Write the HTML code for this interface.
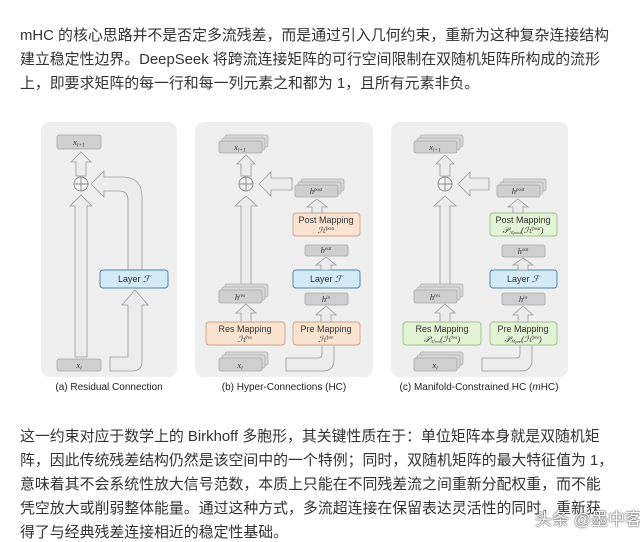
<!DOCTYPE html>
<html><head><meta charset="utf-8"><style>
body{margin:0;width:640px;height:537px;background:#fff;position:relative;overflow:hidden;font-family:"Liberation Sans","Noto Sans CJK SC",sans-serif;color:#333}
.t{position:absolute;left:20px;font-size:14.9px;white-space:nowrap;letter-spacing:0}
svg{position:absolute;left:0;top:0}
.wm{position:absolute;left:535px;top:505px;font-size:17px;color:#fff;text-shadow:0 0 2px #555,0 0 1px #333;white-space:nowrap}
</style></head><body>
<div class="t" style="top:24px">mHC 的核心思路并不是否定多流残差，而是通过引入几何约束，重新为这种复杂连接结构</div>
<div class="t" style="top:48px">建立稳定性边界。DeepSeek 将跨流连接矩阵的可行空间限制在双随机矩阵所构成的流形</div>
<div class="t" style="top:72px">上，即要求矩阵的每一行和每一列元素之和都为 1，且所有元素非负。</div>
<div class="t" style="top:425px">这一约束对应于数学上的 Birkhoff 多胞形，其关键性质在于：单位矩阵本身就是双随机矩</div>
<div class="t" style="top:449px">阵，因此传统残差结构仍然是该空间中的一个特例；同时，双随机矩阵的最大特征值为 1，</div>
<div class="t" style="top:473px">意味着其不会系统性放大信号范数，本质上只能在不同残差流之间重新分配权重，而不能</div>
<div class="t" style="top:497px">凭空放大或削弱整体能量。通过这种方式，多流超连接在保留表达灵活性的同时，重新获</div>
<div class="t" style="top:521px">得了与经典残差连接相近的稳定性基础。</div>
<div class="wm">头条 @墨中客</div>
<svg width="640" height="537" viewBox="0 0 640 537">
<defs>
<style>
.pn{fill:#efefef}
.ar{fill:#ececec;stroke:#9a9a9a;stroke-width:0.8}
.bx{fill:#cfcfcf;stroke:#a8a8a8;stroke-width:0.8}
.bk{fill:#d8d8d8;stroke:#b0b0b0;stroke-width:0.8}
.or{fill:#fbe3d2;stroke:#d3a080;stroke-width:0.9}
.gr{fill:#e3f3d6;stroke:#9cc484;stroke-width:0.9}
.bl{fill:#d3ebf6;stroke:#4f87a3;stroke-width:1}
.lb{font-family:"Liberation Sans",sans-serif;font-size:9px;fill:#333;text-anchor:middle}
.mt{font-family:"Liberation Serif",serif;font-size:8.5px;fill:#333;text-anchor:middle;font-style:italic}
.cap{font-family:"Liberation Sans",sans-serif;font-size:10px;fill:#222;text-anchor:middle}
</style>
</defs>
<rect class="pn" x="41" y="122" width="136" height="255" rx="9"/>
<rect class="pn" x="195" y="122" width="178" height="255" rx="9"/>
<rect class="pn" x="391" y="122" width="177" height="255" rx="9"/>
<text class="cap" x="109" y="390">(a) Residual Connection</text>
<text class="cap" x="284" y="390">(b) Hyper-Connections (HC)</text>
<text class="cap" x="479" y="390">(c) Manifold-Constrained HC (<tspan font-style="italic">m</tspan>HC)</text>

<rect class="bx" x="57" y="135" width="44" height="14" rx="2"/>
<text class="mt" x="79" y="145">x<tspan font-size="5.5" dy="1.5">l+1</tspan></text>
<path class="ar" d="M81,152 L91,162 H86 V176 H76 V162 H71 Z"/>
<circle cx="81" cy="184" r="7" fill="#f4f4f4" stroke="#888" stroke-width="0.9"/>
<path d="M74,184 H88 M81,177 V191" stroke="#888" stroke-width="0.9"/>
<path class="ar" d="M81,195 L92,206 H87 V357 H75 V206 H70 Z"/>
<rect class="bx" x="57" y="359" width="44" height="12" rx="2"/>
<text class="mt" x="79" y="368">x<tspan font-size="5.5" dy="1.5">l</tspan></text>
<path class="ar" d="M128,270 V200 Q128,191 119,191 H104 V197 L91,184 L104,171 V177 H122 Q142,177 142,197 V270 Z"/>
<path class="ar" d="M110,371 H132 Q142,371 142,361 V305 H148 L135,290 L122,305 H128 V357 H110 Z"/>
<rect class="bl" x="100" y="270" width="68" height="18" rx="3"/>
<text class="lb" x="134" y="282">Layer <tspan font-family="Liberation Serif" font-style="italic">ℱ</tspan></text>

<g>
<rect class="bk" x="225" y="135" width="43" height="12" rx="2"/><rect class="bk" x="222" y="138" width="43" height="12" rx="2"/>
<rect class="bx" x="219" y="141" width="43" height="12" rx="2"/>
<text class="mt" x="240" y="150">x<tspan font-size="5.5" dy="1.5">l+1</tspan></text>
<path class="ar" d="M246,155 L255,164 H251 V176 H241 V164 H237 Z"/>
<circle cx="246" cy="184" r="7" fill="#f4f4f4" stroke="#888" stroke-width="0.9"/>
<path d="M239,184 H253 M246,177 V191" stroke="#888" stroke-width="0.9"/>
<path class="ar" d="M259,184 L271,172 V178 H292 V190 H271 V196 Z"/>
<path class="ar" d="M246,196 L257,206 H251 V288 H241 V206 H235 Z"/>
<rect class="bk" x="225" y="284" width="43" height="13" rx="2"/><rect class="bk" x="222" y="287" width="43" height="13" rx="2"/>
<rect class="bx" x="219" y="290" width="43" height="13" rx="2"/>
<text class="mt" x="240" y="300">h<tspan font-size="5" dy="-3">res</tspan></text>
<path class="ar" d="M246,304 L256,313 H251 V322 H241 V313 H236 Z"/>
<rect class="or" x="206" y="322" width="79" height="23" rx="3"/>
<text class="lb" x="245" y="332">Res Mapping</text>
<text class="mt" x="245" y="342">ℋ<tspan font-size="5" dy="-3">res</tspan></text>
<rect class="bk" x="225" y="352" width="43" height="13" rx="2"/><rect class="bk" x="222" y="355" width="43" height="13" rx="2"/>
<rect class="bx" x="219" y="358" width="43" height="13" rx="2"/>
<text class="mt" x="240" y="368">x<tspan font-size="5.5" dy="1.5">l</tspan></text>
<path class="ar" d="M286,358 H318 Q322,358 322,354 V345 H334 V360 Q334,371 323,371 H286 Z"/>
<rect class="or" x="293" y="322" width="67" height="23" rx="3"/>
<text class="lb" x="326" y="332">Pre Mapping</text>
<text class="mt" x="326" y="342">ℋ<tspan font-size="5" dy="-3">pre</tspan></text>
<path class="ar" d="M326,306 L336,315 H331 V322 H321 V315 H316 Z"/>
<rect class="bx" x="305" y="293" width="43" height="12" rx="2"/>
<text class="mt" x="326" y="302">h<tspan font-size="5" dy="-3">in</tspan></text>
<rect class="bl" x="293" y="270" width="67" height="18" rx="3"/>
<text class="lb" x="326" y="282">Layer <tspan font-family="Liberation Serif" font-style="italic">ℱ</tspan></text>
<path class="ar" d="M326,257 L336,265 H331 V270 H321 V265 H316 Z"/>
<rect class="bx" x="305" y="245" width="43" height="11" rx="2"/>
<text class="mt" x="326" y="253">h<tspan font-size="5" dy="-3">out</tspan></text>
<rect class="or" x="293" y="213" width="67" height="23" rx="3"/>
<text class="lb" x="326" y="223">Post Mapping</text>
<text class="mt" x="326" y="233">ℋ<tspan font-size="5" dy="-3">post</tspan></text>
<path class="ar" d="M317,199 L327,207 H322 V213 H312 V207 H307 Z"/>
<rect class="bk" x="301" y="179" width="43" height="12" rx="2"/><rect class="bk" x="298" y="182" width="43" height="12" rx="2"/>
<rect class="bx" x="295" y="185" width="43" height="12" rx="2"/>
<text class="mt" x="316" y="194">h<tspan font-size="5" dy="-3">post</tspan></text>
</g>

<g>
<rect class="bk" x="420" y="135" width="43" height="12" rx="2"/><rect class="bk" x="417" y="138" width="43" height="12" rx="2"/>
<rect class="bx" x="414" y="141" width="43" height="12" rx="2"/>
<text class="mt" x="435" y="150">x<tspan font-size="5.5" dy="1.5">l+1</tspan></text>
<path class="ar" d="M445,155 L454,164 H450 V176 H440 V164 H436 Z"/>
<circle cx="445" cy="184" r="7" fill="#f4f4f4" stroke="#888" stroke-width="0.9"/>
<path d="M438,184 H452 M445,177 V191" stroke="#888" stroke-width="0.9"/>
<path class="ar" d="M458,184 L470,172 V178 H489 V190 H470 V196 Z"/>
<path class="ar" d="M445,196 L456,206 H450 V288 H440 V206 H434 Z"/>
<rect class="bk" x="420" y="284" width="43" height="13" rx="2"/><rect class="bk" x="417" y="287" width="43" height="13" rx="2"/>
<rect class="bx" x="414" y="290" width="43" height="13" rx="2"/>
<text class="mt" x="435" y="300">h<tspan font-size="5" dy="-3">res</tspan></text>
<path class="ar" d="M445,304 L455,313 H450 V322 H440 V313 H435 Z"/>
<rect class="gr" x="403" y="322" width="78" height="23" rx="3"/>
<text class="lb" x="442" y="332">Res Mapping</text>
<text class="mt" x="442" y="342">𝒫<tspan font-size="4.5" dy="1">ℳres</tspan><tspan dy="-1">(ℋ</tspan><tspan font-size="5" dy="-3">res</tspan><tspan dy="3">)</tspan></text>
<rect class="bk" x="420" y="352" width="43" height="13" rx="2"/><rect class="bk" x="417" y="355" width="43" height="13" rx="2"/>
<rect class="bx" x="414" y="358" width="43" height="13" rx="2"/>
<text class="mt" x="435" y="368">x<tspan font-size="5.5" dy="1.5">l</tspan></text>
<path class="ar" d="M482,358 H516 Q520,358 520,354 V345 H532 V360 Q532,371 521,371 H482 Z"/>
<rect class="gr" x="490" y="322" width="67" height="23" rx="3"/>
<text class="lb" x="523" y="332">Pre Mapping</text>
<text class="mt" x="523" y="342">𝒫<tspan font-size="4.5" dy="1">ℳpre</tspan><tspan dy="-1">(ℋ</tspan><tspan font-size="5" dy="-3">pre</tspan><tspan dy="3">)</tspan></text>
<path class="ar" d="M523,306 L533,315 H528 V322 H518 V315 H513 Z"/>
<rect class="bx" x="502" y="293" width="43" height="12" rx="2"/>
<text class="mt" x="523" y="302">h<tspan font-size="5" dy="-3">in</tspan></text>
<rect class="bl" x="490" y="270" width="67" height="18" rx="3"/>
<text class="lb" x="523" y="282">Layer <tspan font-family="Liberation Serif" font-style="italic">ℱ</tspan></text>
<path class="ar" d="M523,258 L533,265 H528 V270 H518 V265 H513 Z"/>
<rect class="bx" x="502" y="245" width="43" height="12" rx="2"/>
<text class="mt" x="523" y="254">h<tspan font-size="5" dy="-3">out</tspan></text>
<rect class="gr" x="490" y="213" width="67" height="23" rx="3"/>
<text class="lb" x="523" y="223">Post Mapping</text>
<text class="mt" x="523" y="233">𝒫<tspan font-size="4.5" dy="1">ℳpost</tspan><tspan dy="-1">(ℋ</tspan><tspan font-size="5" dy="-3">post</tspan><tspan dy="3">)</tspan></text>
<path class="ar" d="M518,199 L528,207 H523 V213 H513 V207 H508 Z"/>
<rect class="bk" x="503" y="179" width="43" height="12" rx="2"/><rect class="bk" x="500" y="182" width="43" height="12" rx="2"/>
<rect class="bx" x="497" y="185" width="43" height="12" rx="2"/>
<text class="mt" x="518" y="194">h<tspan font-size="5" dy="-3">post</tspan></text>
</g>
</svg>
</body></html>
